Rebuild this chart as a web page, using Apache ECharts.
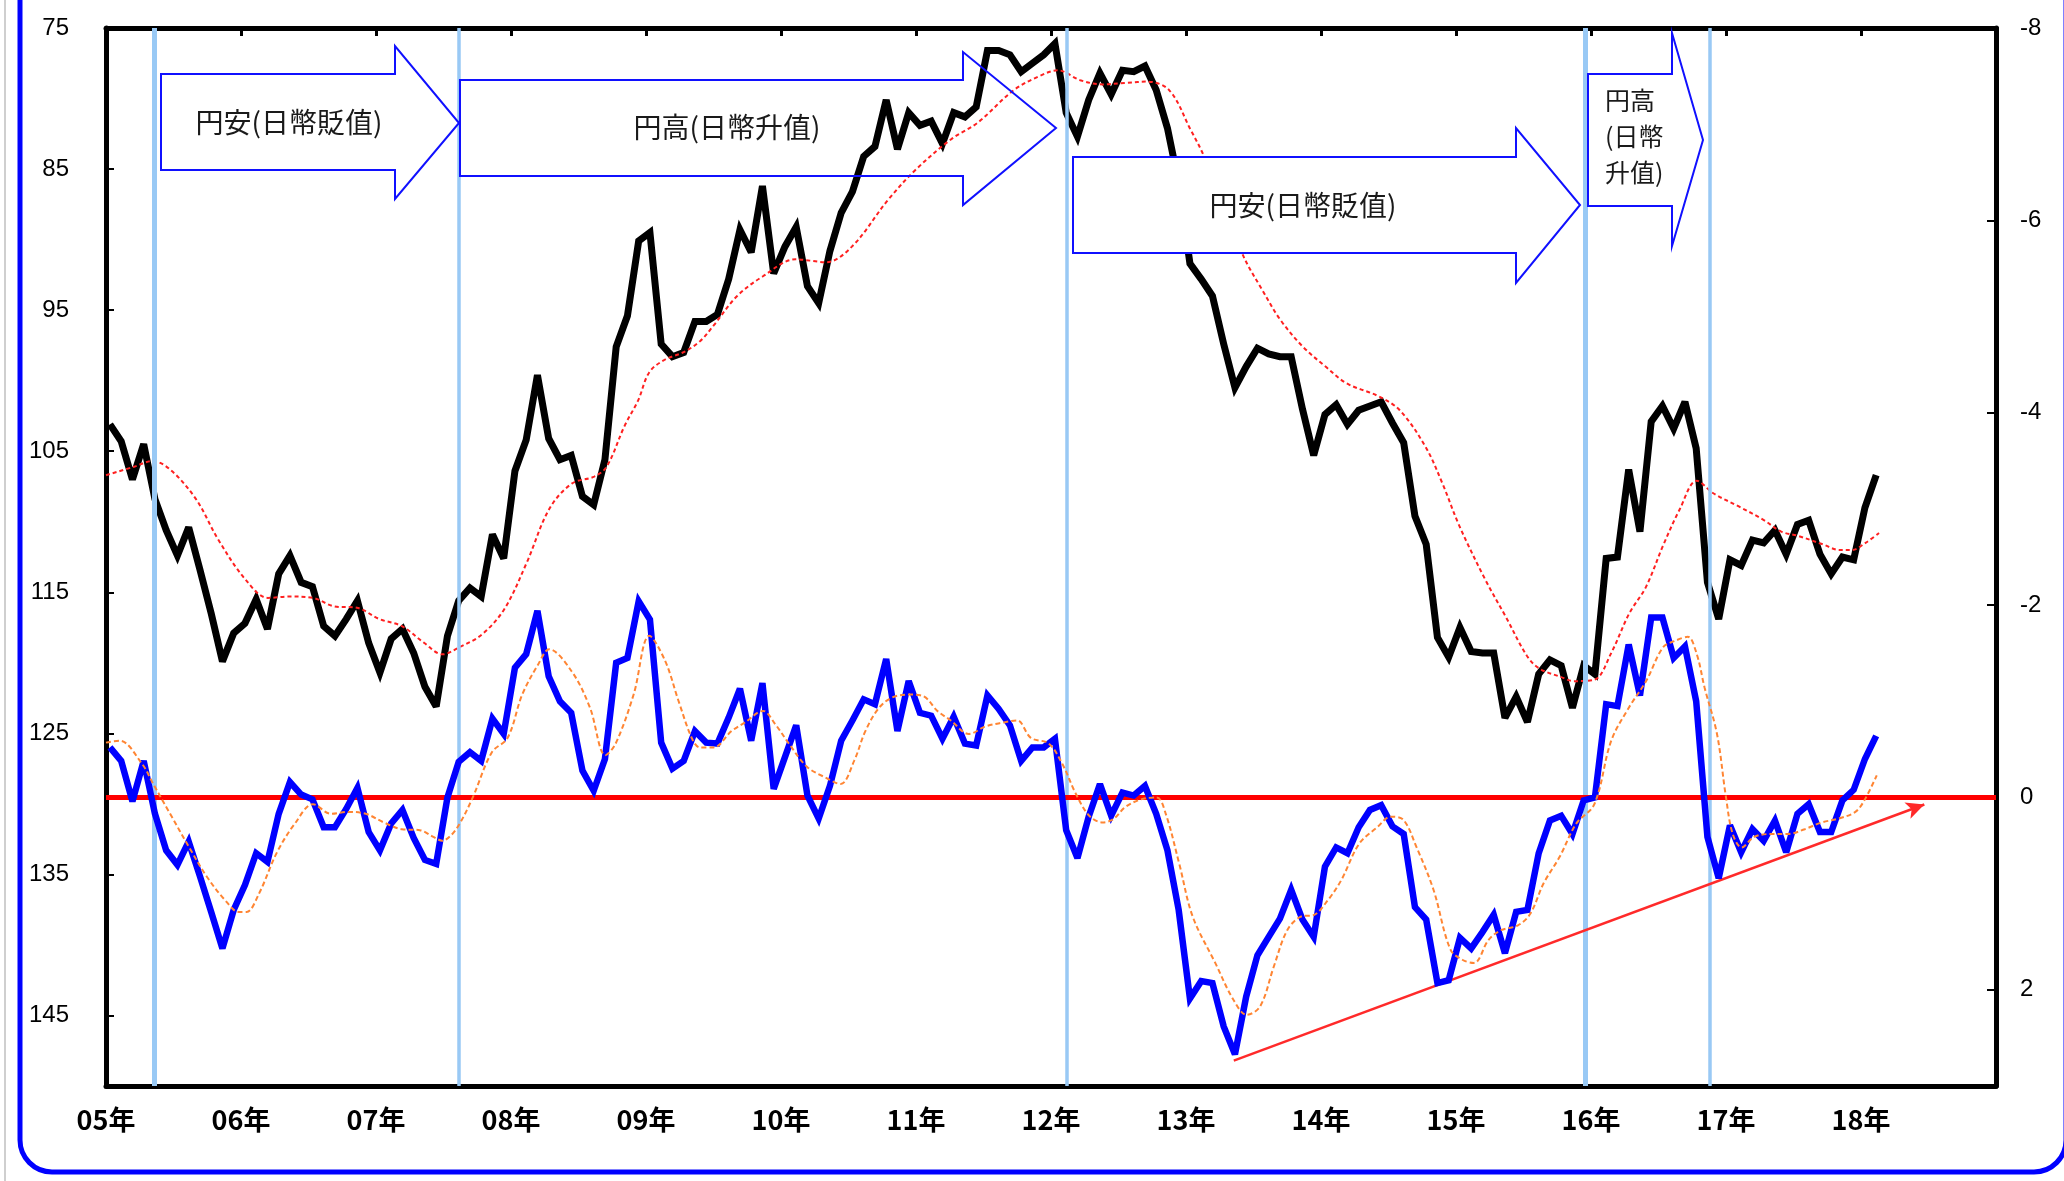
<!DOCTYPE html>
<html>
<head>
<meta charset="utf-8">
<script src="https://cdn.jsdelivr.net/npm/echarts@6/dist/echarts.min.js"></script>
<style>
html,body{margin:0;padding:0;background:#ffffff;}
#c{width:2064px;height:1181px;}
</style>
</head>
<body>
<div id="c"></div>
<script>
// ---------------- data ----------------
const startYear = 2005;               // first month of the monthly series = Jan 2005
// USD/JPY month-end rate (left axis, inverted)
const usdJpy = [
  103.1,104.3,107.0,104.5,108.4,110.6,112.4,110.4,113.4,116.5,119.9,117.9,
  117.2,115.5,117.6,113.7,112.4,114.3,114.6,117.4,118.1,116.9,115.6,118.6,
  120.7,118.3,117.6,119.3,121.7,123.1,118.1,115.6,114.7,115.3,110.9,112.6,
  106.4,104.2,99.6,104.1,105.6,105.3,108.2,108.8,105.6,97.6,95.4,90.1,
  89.5,97.4,98.3,98.0,95.8,95.8,95.3,92.8,89.3,90.9,86.2,92.4,
  90.5,89.1,93.3,94.5,90.8,88.1,86.6,84.1,83.4,80.1,83.6,81.0,
  81.9,81.6,83.2,81.0,81.3,80.6,76.6,76.6,76.9,78.1,77.5,76.9,
  76.1,81.0,82.7,80.1,78.2,79.7,78.0,78.1,77.7,79.4,82.1,86.0,
  91.7,92.8,94.0,97.4,100.5,99.0,97.7,98.1,98.3,98.3,102.0,105.3,
  102.4,101.7,103.1,102.1,101.8,101.5,103.0,104.4,109.6,111.6,118.2,119.6,
  117.5,119.2,119.3,119.3,123.9,122.4,124.2,120.8,119.8,120.2,123.2,120.2,
  120.8,112.6,112.5,106.3,110.7,102.9,101.8,103.4,101.5,104.8,114.3,116.9,
  112.7,113.1,111.3,111.5,110.6,112.3,110.2,109.9,112.3,113.7,112.5,112.7,
  109.0,106.7
];
// indicator (right axis, inverted)
const indicator = [
  -0.52,-0.38,0.04,-0.38,0.17,0.55,0.70,0.46,0.82,1.19,1.57,1.17,
  0.91,0.58,0.67,0.17,-0.16,-0.03,0.02,0.31,0.31,0.12,-0.10,0.36,
  0.55,0.27,0.13,0.42,0.65,0.69,0.00,-0.37,-0.47,-0.38,-0.82,-0.66,
  -1.35,-1.49,-1.94,-1.26,-1.00,-0.88,-0.28,-0.07,-0.40,-1.40,-1.45,-2.04,
  -1.85,-0.57,-0.30,-0.38,-0.69,-0.57,-0.56,-0.83,-1.13,-0.59,-1.19,-0.09,
  -0.42,-0.75,-0.02,0.22,-0.12,-0.59,-0.80,-1.02,-0.97,-1.44,-0.69,-1.21,
  -0.88,-0.85,-0.61,-0.84,-0.56,-0.54,-1.06,-0.92,-0.75,-0.38,-0.52,-0.52,
  -0.61,0.34,0.63,0.20,-0.14,0.19,-0.05,-0.02,-0.12,0.17,0.55,1.17,
  2.09,1.91,1.93,2.38,2.67,2.07,1.64,1.45,1.26,0.96,1.27,1.45,
  0.72,0.52,0.58,0.31,0.13,0.08,0.30,0.38,1.14,1.27,1.93,1.90,
  1.46,1.57,1.40,1.22,1.62,1.19,1.17,0.58,0.24,0.19,0.38,0.03,
  0.00,-0.97,-0.95,-1.59,-1.06,-1.87,-1.87,-1.45,-1.57,-1.00,0.41,0.84,
  0.29,0.57,0.33,0.45,0.24,0.57,0.17,0.07,0.36,0.36,0.03,-0.08,
  -0.40,-0.64
];
// moving average of USD/JPY, read as [months after Jan 2005, value]
const usdJpyMA = [
  [0,106.7],[2.5,106.1],[4.1,105.7],[5.7,106.3],[8,108.4],[10,111.3],[12.4,114.1],[14.4,115.4],
  [16.4,115.3],[18.4,115.4],[20.3,116.0],[22.3,116.1],[24.3,116.9],[26.3,117.4],[28.3,118.6],
  [29.9,119.4],[31.4,118.9],[33.4,118.0],[35.4,116.2],[37.4,112.9],[39.4,109.1],[41.4,107.3],
  [43.4,106.8],[44.5,106.1],[46.1,103.2],[47.3,101.4],[48.3,99.4],[49.7,98.5],[51.3,98.0],
  [52.8,97.2],[54,96.1],[56.1,94.0],[58.4,92.6],[61.3,91.4],[64,91.6],[66.3,90.5],[69.5,87.2],
  [71.9,85.1],[75.1,82.9],[77.5,81.7],[80.7,79.4],[83,78.4],[84.6,78.0],[86.6,78.7],[88.6,79.0],
  [90.5,78.9],[92.5,78.8],[94.5,79.4],[96.4,82.2],[97.6,84.1],[101,91.0],[102.8,93.6],[104.4,95.7],
  [106.4,97.6],[108.4,99.0],[110.3,100.2],[113.1,101.1],[115,102.1],[117.3,104.7],[118.8,107.3],
  [120.3,110.3],[122.6,114.1],[124.4,116.7],[126.3,119.5],[127.4,120.4],[129.3,121.0],[130.5,121.3],
  [132.3,121.2],[133.8,119.3],[135.4,116.5],[136.9,114.6],[138.4,111.7],[139.9,109.1],[141.4,107.1],
  [142.9,108.0],[145.1,108.9],[147.4,109.9],[148.9,110.7],[150.4,111.0],[152.6,111.6],[154.1,112.0],
  [155.2,112.0],[156.4,111.5],[157.6,110.8]
];
// moving average of the indicator, read as [months after Jan 2005, value]
const indicatorMA = [
  [0,-0.57],[1.2,-0.59],[3.2,-0.35],[4.2,-0.14],[5.7,0.17],[7.4,0.52],[9,0.83],[10.6,1.07],
  [11.8,1.19],[12.5,1.19],[13.6,1.00],[15.2,0.57],[16.8,0.27],[18.4,0.07],[20,0.17],[21.5,0.15],
  [23.1,0.17],[24.7,0.26],[26.3,0.33],[27.9,0.34],[29.1,0.41],[29.9,0.45],[30.7,0.39],[31.5,0.26],
  [32.6,0.00],[34.3,-0.47],[35.7,-0.62],[37.0,-1.07],[38.4,-1.38],[39.4,-1.54],[41.4,-1.31],
  [43.0,-0.94],[44.4,-0.44],[45.3,-0.56],[46.9,-1.07],[48.3,-1.68],[49.7,-1.42],[50.9,-1.00],
  [52.1,-0.61],[52.8,-0.52],[54.0,-0.52],[55.6,-0.69],[56.8,-0.78],[58.4,-0.90],[59.5,-0.76],
  [60.7,-0.56],[62.3,-0.32],[63.9,-0.21],[65.3,-0.14],[66.5,-0.38],[67.5,-0.69],[68.7,-0.93],
  [69.9,-1.04],[71.5,-1.07],[72.7,-1.05],[73.9,-0.90],[75.1,-0.80],[76.7,-0.66],[78.2,-0.74],
  [79.8,-0.78],[81.0,-0.80],[82.2,-0.62],[83.8,-0.56],[85.0,-0.35],[86.2,-0.04],[87.4,0.19],
  [88.6,0.26],[89.6,0.22],[90.6,0.10],[92,0.02],[93.4,0.00],[94.2,0.17],[95.4,0.69],[96.6,1.24],
  [98.6,1.72],[100.2,2.10],[101.4,2.26],[102.6,2.17],[103.8,1.76],[105.0,1.38],[106.2,1.24],
  [107.4,1.22],[108.6,1.07],[109.8,0.86],[111.4,0.48],[113,0.31],[114.2,0.20],[115.3,0.23],
  [116.5,0.52],[118.0,0.96],[119.5,1.58],[120.6,1.69],[121.6,1.72],[122.9,1.48],[124.0,1.38],
  [125.5,1.33],[126.6,1.21],[127.8,0.89],[129.2,0.62],[130.7,0.27],[132.3,0.07],[133.8,-0.59],
  [135.4,-0.94],[136.9,-1.21],[138.4,-1.56],[139.5,-1.63],[140.6,-1.67],[141.4,-1.49],[142.1,-1.14],
  [143.2,-0.66],[144,0.00],[144.6,0.38],[145.4,0.52],[146.5,0.41],[148,0.38],[149.5,0.38],
  [151,0.33],[152.5,0.26],[154,0.22],[155.5,0.15],[156.3,0.03],[157.4,-0.23]
];
// axis ticks / labels
const yearTicks = [2005,2006,2007,2008,2009,2010,2011,2012,2013,2014,2015,2016,2017,2018];
const leftTicks = [75,85,95,105,115,125,135,145];
const rightTicks = [-8,-6,-4,-2,0,2];
// turning points (vertical lines), in years
const phaseLines = [2005.363, 2007.609, 2012.116, 2015.960, 2016.878];
// trend arrow on the indicator: [year, indicator value]
const trendFrom = [2013.354, 2.736];
const trendTo = [2018.469, 0.073];
// annotation texts
const arrowTexts = ['円安(日幣貶值)', '円高(日幣升值)', '円安(日幣貶值)', '円高\n(日幣\n升值)'];

// ---------------- styles ----------------
const phaseWidths = [5, 3.5, 3.5, 5, 3.5];
const monthOffset = 0.35;   // points drawn inside each month's slot

const toX = (i) => startYear + (i + monthOffset) / 12;
const maX = (m) => startYear + m / 12;

const chart = echarts.init(document.getElementById('c'), null, {renderer: 'canvas', width: 2064, height: 1181});

const axisLineStyle = {color: '#000', width: 5};
const cjk = '"Noto Sans CJK JP", "Noto Sans CJK SC", sans-serif';

function arrowPoly(pts, fill, z) {
  return {
    type: 'polygon', z: z, silent: true,
    shape: {points: pts},
    style: {fill: fill, stroke: '#1010ff', lineWidth: 2}
  };
}
function label(text, x, y, size, align, lh) {
  return {
    type: 'text', z: 120, silent: true,
    x: x, y: y,
    style: {text: text, fill: '#1a1a1a', font: size + 'px ' + cjk, align: align, verticalAlign: 'middle', lineHeight: lh || size * 1.2}
  };
}

const option = {
  animation: false,
  backgroundColor: '#ffffff',
  grid: {left: 106, top: 28, width: 1890, height: 1058, containLabel: false},
  xAxis: [
    {
      type: 'value', min: 2005, max: 2019, interval: 1, position: 'bottom',
      axisLine: {show: true, onZero: false, lineStyle: axisLineStyle},
      axisTick: {show: false},
      splitLine: {show: false},
      axisLabel: {
        customValues: yearTicks,
        formatter: (v) => String(Math.round(v)).slice(2) + '年',
        fontSize: 27, fontWeight: 'bold', fontFamily: cjk, color: '#000', margin: 20
      }
    },
    {
      type: 'value', min: 2005, max: 2019, interval: 1, position: 'top',
      axisLine: {show: true, onZero: false, lineStyle: axisLineStyle},
      axisTick: {show: true, inside: true, length: 8, lineStyle: {color: '#000', width: 3}},
      axisLabel: {show: false},
      splitLine: {show: false}
    }
  ],
  yAxis: [
    {
      type: 'value', inverse: true, min: 75, max: 150, position: 'left',
      axisLine: {show: true, onZero: false, lineStyle: axisLineStyle},
      axisTick: {show: true, inside: true, length: 8, customValues: leftTicks, lineStyle: {color: '#000', width: 2}},
      axisLabel: {customValues: leftTicks, fontSize: 24, fontFamily: '"Liberation Sans", Arial, sans-serif', color: '#000', margin: 37},
      splitLine: {show: false}
    },
    {
      type: 'value', inverse: true, min: -8, max: 3, position: 'right',
      axisLine: {show: true, onZero: false, lineStyle: axisLineStyle},
      axisTick: {show: true, inside: true, length: 9, customValues: rightTicks, lineStyle: {color: '#000', width: 2}},
      axisLabel: {customValues: rightTicks, fontSize: 24, fontFamily: '"Liberation Sans", Arial, sans-serif', color: '#000', margin: 24},
      splitLine: {show: false}
    }
  ],
  series: [
    {
      name: 'phase', type: 'line', xAxisIndex: 0, yAxisIndex: 0, z: 1,
      data: [], symbol: 'none', silent: true,
      markLine: {
        silent: true, symbol: ['none', 'none'], animation: false,
        label: {show: false},
        data: phaseLines.map((x, k) => ({xAxis: x, lineStyle: {color: '#99c9f5', width: phaseWidths[k], type: 'solid'}}))
      }
    },
    {
      name: 'USD/JPY', type: 'line', xAxisIndex: 0, yAxisIndex: 0, z: 3,
      data: usdJpy.map((v, i) => [toX(i), v]),
      symbol: 'none', silent: true,
      lineStyle: {color: '#000000', width: 7, join: 'miter', miterLimit: 3}
    },
    {
      name: 'USD/JPY MA', type: 'line', xAxisIndex: 0, yAxisIndex: 0, z: 4,
      data: usdJpyMA.map(p => [maX(p[0]), p[1]]),
      symbol: 'none', silent: true, smooth: 0.35,
      lineStyle: {color: '#ff2020', width: 2, type: [4, 3]}
    },
    {
      name: 'indicator', type: 'line', xAxisIndex: 0, yAxisIndex: 1, z: 5,
      data: indicator.map((v, i) => [toX(i), v]),
      symbol: 'none', silent: true,
      lineStyle: {color: '#0000ff', width: 6.5, join: 'miter', miterLimit: 3},
      markLine: {
        silent: true, symbol: ['none', 'none'], animation: false,
        label: {show: false},
        data: [
          {yAxis: 0, lineStyle: {color: '#ff0000', width: 5, type: 'solid'}},
          [
            {coord: trendFrom, symbol: 'none', lineStyle: {color: '#ff2a2a', width: 2.5, type: 'solid'}},
            {coord: trendTo, symbol: 'arrow', symbolSize: [13, 18]}
          ]
        ]
      }
    },
    {
      name: 'indicator MA', type: 'line', xAxisIndex: 0, yAxisIndex: 1, z: 6,
      data: indicatorMA.map(p => [maX(p[0]), p[1]]),
      symbol: 'none', silent: true, smooth: 0.35,
      lineStyle: {color: '#ff8533', width: 2, type: [5, 3]}
    }
  ],
  graphic: {
    elements: [
      {type: 'line', silent: true, z: 0, shape: {x1: 5, y1: 0, x2: 5, y2: 1181}, style: {stroke: '#cfcfcf', lineWidth: 2}},
      {type: 'rect', silent: true, z: 0, shape: {x: 20, y: -60, width: 2046, height: 1232, r: 32},
       style: {fill: 'rgba(0,0,0,0)', stroke: '#0000ff', lineWidth: 5}},
      arrowPoly([[161,74],[395,74],[395,46],[459,123],[395,199],[395,170],[161,170]], '#ffffff', 100),
      arrowPoly([[460,80],[963,80],[963,52],[1056,128],[963,205],[963,176],[460,176]], 'rgba(255,255,255,0)', 100),
      arrowPoly([[1073,157],[1516,157],[1516,128],[1580,205],[1516,283],[1516,253],[1073,253]], '#ffffff', 100),
      arrowPoly([[1588,74],[1672,74],[1672,33],[1703,140],[1672,246],[1672,206],[1588,206]], '#ffffff', 100),
      label(arrowTexts[0], 289, 122, 28, 'center'),
      label(arrowTexts[1], 727, 127, 28, 'center'),
      label(arrowTexts[2], 1303, 205, 28, 'center'),
      label(arrowTexts[3], 1605, 136, 25, 'left', 36)
    ]
  }
};
chart.setOption(option);
</script>
</body>
</html>
